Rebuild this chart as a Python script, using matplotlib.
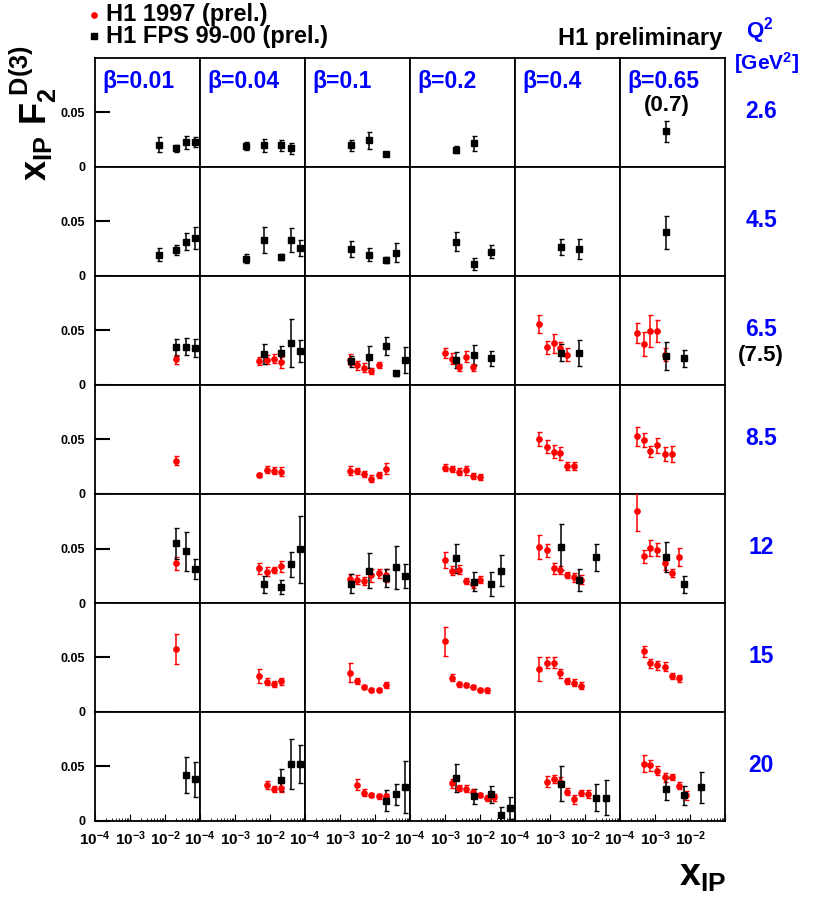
import numpy as np
import matplotlib.pyplot as plt
from matplotlib.ticker import FixedLocator, NullFormatter, LogLocator

plt.rcParams['font.family'] = ['Liberation Sans', 'DejaVu Sans']
plt.rcParams['mathtext.fontset'] = 'custom'
plt.rcParams['mathtext.rm'] = 'Liberation Sans'
plt.rcParams['mathtext.bf'] = 'Liberation Sans:bold'
plt.rcParams['mathtext.it'] = 'Liberation Sans:italic:bold'

beta_labels = ['0.01', '0.04', '0.1', '0.2', '0.4', '0.65']
q2_labels = ['2.6', '4.5', '6.5', '8.5', '12', '15', '20']

# (beta column, x_IP, F2D3 * x_IP, total error)
fps_q2_2p6 = [
    (0, 0.0069, 0.0204, 0.007), (0, 0.020, 0.0171, 0.003), (0, 0.040, 0.0226, 0.006), (0, 0.071, 0.0229, 0.005),
    (1, 0.002, 0.0192, 0.004), (1, 0.0069, 0.0198, 0.006), (1, 0.020, 0.0198, 0.005), (1, 0.040, 0.0171, 0.005),
    (2, 0.002, 0.0198, 0.005), (2, 0.0069, 0.0244, 0.008), (2, 0.020, 0.0122, 0.002),
    (3, 0.002, 0.0159, 0.003), (3, 0.0069, 0.0216, 0.007),
    (5, 0.002, 0.0326, 0.0095),
]
fps_q2_4p5 = [
    (0, 0.0069, 0.0197, 0.006), (0, 0.020, 0.0242, 0.0045), (0, 0.040, 0.0315, 0.0075), (0, 0.071, 0.0348, 0.010),
    (1, 0.002, 0.0158, 0.004), (1, 0.0069, 0.0327, 0.012), (1, 0.020, 0.0176, 0.003), (1, 0.040, 0.0327, 0.011),
    (1, 0.071, 0.0258, 0.007),
    (2, 0.002, 0.0248, 0.007), (2, 0.0069, 0.0197, 0.006), (2, 0.020, 0.0148, 0.003), (2, 0.040, 0.0215, 0.009),
    (3, 0.002, 0.0315, 0.009), (3, 0.0069, 0.0112, 0.0055), (3, 0.020, 0.0224, 0.006),
    (4, 0.002, 0.0267, 0.007), (4, 0.0069, 0.0248, 0.009),
    (5, 0.002, 0.040, 0.015),
]
fps_q2_7p5 = [
    (0, 0.020, 0.0345, 0.008), (0, 0.040, 0.0352, 0.008), (0, 0.071, 0.0339, 0.008),
    (1, 0.0069, 0.0285, 0.0095), (1, 0.020, 0.0291, 0.007), (1, 0.040, 0.0385, 0.022), (1, 0.071, 0.0312, 0.010),
    (2, 0.002, 0.0218, 0.005), (2, 0.0069, 0.0255, 0.010), (2, 0.020, 0.0358, 0.008), (2, 0.040, 0.0106, 0.0025),
    (2, 0.071, 0.0233, 0.012),
    (3, 0.002, 0.023, 0.0075), (3, 0.0069, 0.0273, 0.009), (3, 0.020, 0.0245, 0.007),
    (4, 0.002, 0.0297, 0.008), (4, 0.0069, 0.0297, 0.012),
    (5, 0.002, 0.0267, 0.013), (5, 0.0069, 0.0245, 0.008),
]
fps_q2_12 = [
    (0, 0.020, 0.0548, 0.014), (0, 0.040, 0.0474, 0.018), (0, 0.071, 0.0314, 0.009),
    (1, 0.0069, 0.0172, 0.008), (1, 0.020, 0.0148, 0.0065), (1, 0.040, 0.0354, 0.0117), (1, 0.071, 0.0492, 0.031),
    (2, 0.002, 0.0178, 0.009), (2, 0.0069, 0.0298, 0.016), (2, 0.020, 0.0231, 0.008), (2, 0.040, 0.0326, 0.020),
    (2, 0.071, 0.0252, 0.011),
    (3, 0.002, 0.0409, 0.013), (3, 0.0069, 0.0197, 0.009), (3, 0.020, 0.0175, 0.011), (3, 0.040, 0.0298, 0.014),
    (4, 0.002, 0.0517, 0.021), (4, 0.0069, 0.0209, 0.010), (4, 0.020, 0.0418, 0.012),
    (5, 0.002, 0.0421, 0.014), (5, 0.0069, 0.0172, 0.008),
]
fps_q2_20 = [
    (0, 0.040, 0.042, 0.0167), (0, 0.071, 0.0383, 0.016),
    (1, 0.020, 0.0377, 0.0103), (1, 0.040, 0.0525, 0.023), (1, 0.071, 0.0525, 0.0175),
    (2, 0.020, 0.0188, 0.010), (2, 0.040, 0.0244, 0.010), (2, 0.071, 0.0312, 0.024),
    (3, 0.002, 0.0395, 0.013), (3, 0.0069, 0.0228, 0.007), (3, 0.020, 0.0244, 0.008), (3, 0.040, 0.0059, 0.007),
    (3, 0.071, 0.012, 0.010),
    (4, 0.002, 0.034, 0.016), (4, 0.020, 0.0213, 0.0125), (4, 0.040, 0.0213, 0.016),
    (5, 0.002, 0.0296, 0.010), (5, 0.0069, 0.0235, 0.009), (5, 0.020, 0.0309, 0.014),
]

h97_q2_6p5 = [
    (0, 0.020, 0.0236, 0.004),
    (1, 0.005, 0.0221, 0.004), (1, 0.008, 0.0233, 0.004), (1, 0.0126, 0.0242, 0.004), (1, 0.020, 0.0209, 0.005),
    (2, 0.00195, 0.0233, 0.005), (2, 0.0031, 0.0182, 0.004), (2, 0.0049, 0.0158, 0.004), (2, 0.0078, 0.0127, 0.003),
    (2, 0.0126, 0.0182, 0.003),
    (3, 0.001, 0.0294, 0.005), (3, 0.0016, 0.0242, 0.005), (3, 0.0025, 0.0161, 0.003), (3, 0.004, 0.0261, 0.005),
    (3, 0.0062, 0.0161, 0.003),
    (4, 0.0005, 0.056, 0.008), (4, 0.0008, 0.0348, 0.006), (4, 0.00126, 0.0382, 0.009), (4, 0.00195, 0.0336, 0.0056),
    (4, 0.0031, 0.0279, 0.006),
    (5, 0.0003, 0.0479, 0.009), (5, 0.00048, 0.0379, 0.011), (5, 0.00074, 0.0494, 0.0145), (5, 0.00117, 0.0494, 0.010),
    (5, 0.0019, 0.0276, 0.006),
]
h97_q2_8p5 = [
    (0, 0.020, 0.0306, 0.004),
    (1, 0.005, 0.0173, 0.002), (1, 0.008, 0.0224, 0.003), (1, 0.0126, 0.0215, 0.003), (1, 0.020, 0.0206, 0.004),
    (2, 0.00195, 0.0215, 0.004), (2, 0.0031, 0.0212, 0.003), (2, 0.0049, 0.0182, 0.003), (2, 0.0078, 0.0142, 0.003),
    (2, 0.0126, 0.0176, 0.003), (2, 0.020, 0.0233, 0.005),
    (3, 0.001, 0.0242, 0.003), (3, 0.0016, 0.0230, 0.003), (3, 0.0025, 0.0206, 0.003), (3, 0.004, 0.0218, 0.004),
    (3, 0.0062, 0.0167, 0.003), (3, 0.0098, 0.0158, 0.003),
    (4, 0.0005, 0.0506, 0.0065), (4, 0.0008, 0.0433, 0.006), (4, 0.00126, 0.0388, 0.006), (4, 0.00195, 0.0373, 0.006),
    (4, 0.0031, 0.0258, 0.004), (4, 0.0049, 0.0258, 0.004),
    (5, 0.0003, 0.053, 0.0087), (5, 0.00048, 0.0494, 0.0065), (5, 0.00074, 0.0391, 0.005), (5, 0.00117, 0.0445, 0.0065),
    (5, 0.0019, 0.0367, 0.006), (5, 0.003, 0.0367, 0.007),
]
h97_q2_12 = [
    (0, 0.020, 0.0363, 0.0057),
    (1, 0.005, 0.032, 0.005), (1, 0.008, 0.0286, 0.004), (1, 0.0126, 0.0302, 0.003), (1, 0.020, 0.0335, 0.005),
    (2, 0.00195, 0.0222, 0.004), (2, 0.0031, 0.0215, 0.004), (2, 0.0049, 0.0203, 0.004), (2, 0.0078, 0.0255, 0.006),
    (2, 0.0126, 0.0271, 0.004), (2, 0.020, 0.0255, 0.006),
    (3, 0.001, 0.0394, 0.007), (3, 0.0016, 0.0295, 0.004), (3, 0.0025, 0.0305, 0.004), (3, 0.004, 0.020, 0.003),
    (3, 0.0062, 0.0175, 0.004), (3, 0.0098, 0.0215, 0.003),
    (4, 0.0005, 0.0517, 0.011), (4, 0.0008, 0.0483, 0.006), (4, 0.00126, 0.032, 0.005), (4, 0.00195, 0.0302, 0.004),
    (4, 0.0031, 0.0255, 0.003), (4, 0.0049, 0.0234, 0.004), (4, 0.0078, 0.0215, 0.004),
    (5, 0.0003, 0.084, 0.018), (5, 0.00048, 0.0428, 0.006), (5, 0.00074, 0.0505, 0.007), (5, 0.00117, 0.0489, 0.006),
    (5, 0.0019, 0.0363, 0.006), (5, 0.003, 0.0274, 0.004), (5, 0.0048, 0.0421, 0.008),
]
h97_q2_15 = [
    (0, 0.020, 0.058, 0.014),
    (1, 0.005, 0.0327, 0.0065), (1, 0.008, 0.0278, 0.003), (1, 0.0126, 0.0256, 0.003), (1, 0.020, 0.0281, 0.003),
    (2, 0.00195, 0.0361, 0.009), (2, 0.0031, 0.0284, 0.003), (2, 0.0049, 0.0231, 0.002), (2, 0.0078, 0.020, 0.002),
    (2, 0.0126, 0.020, 0.002), (2, 0.020, 0.0247, 0.003),
    (3, 0.001, 0.0648, 0.0136), (3, 0.0016, 0.0315, 0.003), (3, 0.0025, 0.0253, 0.002), (3, 0.004, 0.025, 0.002),
    (3, 0.0062, 0.0228, 0.002), (3, 0.0098, 0.0204, 0.002), (3, 0.0155, 0.0198, 0.002),
    (4, 0.0005, 0.0395, 0.011), (4, 0.0008, 0.0454, 0.005), (4, 0.00126, 0.0454, 0.005), (4, 0.00195, 0.0355, 0.004),
    (4, 0.0031, 0.0284, 0.003), (4, 0.0049, 0.0269, 0.003), (4, 0.0078, 0.0241, 0.003),
    (5, 0.00048, 0.0559, 0.005), (5, 0.00074, 0.0448, 0.004), (5, 0.00117, 0.0429, 0.004), (5, 0.0019, 0.0417, 0.004),
    (5, 0.003, 0.033, 0.003), (5, 0.0048, 0.0309, 0.003),
]
h97_q2_20 = [
    (1, 0.008, 0.033, 0.004), (1, 0.0126, 0.0293, 0.003), (1, 0.020, 0.0306, 0.004),
    (2, 0.0031, 0.0333, 0.005), (2, 0.0049, 0.0259, 0.003), (2, 0.0078, 0.0241, 0.002), (2, 0.0126, 0.0225, 0.002),
    (2, 0.020, 0.0228, 0.002),
    (3, 0.0016, 0.0346, 0.004), (3, 0.0025, 0.0302, 0.003), (3, 0.004, 0.0296, 0.003), (3, 0.0062, 0.0265, 0.003),
    (3, 0.0098, 0.0238, 0.002), (3, 0.0155, 0.021, 0.003), (3, 0.0245, 0.0216, 0.003),
    (4, 0.0008, 0.0361, 0.005), (4, 0.00126, 0.0386, 0.004), (4, 0.00195, 0.0361, 0.004), (4, 0.0031, 0.0269, 0.003),
    (4, 0.0049, 0.020, 0.004), (4, 0.0078, 0.0256, 0.003), (4, 0.0123, 0.0247, 0.004),
    (5, 0.00048, 0.0525, 0.008), (5, 0.00074, 0.0512, 0.005), (5, 0.00117, 0.0463, 0.004), (5, 0.0019, 0.0401, 0.004),
    (5, 0.003, 0.0404, 0.003), (5, 0.0048, 0.0324, 0.003), (5, 0.0076, 0.0235, 0.004),
]

# one entry per Q2 row
fps_rows = [fps_q2_2p6, fps_q2_4p5, fps_q2_7p5, [], fps_q2_12, [], fps_q2_20]
h97_rows = [[], [], h97_q2_6p5, h97_q2_8p5, h97_q2_12, h97_q2_15, h97_q2_20]

W, H = 818, 898
fig, axes = plt.subplots(7, 6, figsize=(W / 100, H / 100), dpi=100, sharex=True, sharey=True)
fig.subplots_adjust(left=95 / W, right=725 / W, top=1 - 58 / H, bottom=1 - 821 / H, wspace=0, hspace=0)

BLUE = '#0000ff'


def draw(ax, pts, col, color, marker, ms):
    sel = [p for p in pts if p[0] == col]
    if not sel:
        return
    x = [p[1] for p in sel]
    y = [p[2] for p in sel]
    e = [p[3] for p in sel]
    ax.errorbar(x, y, yerr=e, fmt=marker, color=color, ms=ms, elinewidth=1.1,
                capsize=1.8, capthick=1.0, zorder=3)


for r in range(7):
    for c in range(6):
        ax = axes[r, c]
        ax.set_xscale('log')
        ax.set_xlim(1e-4, 1e-1)
        ax.set_ylim(0, 0.1)
        for s in ax.spines.values():
            s.set_linewidth(1.3)
        draw(ax, h97_rows[r], c, 'red', 'o', 3.8)
        draw(ax, fps_rows[r], c, 'black', 's', 4.2)

        ax.yaxis.set_major_locator(FixedLocator([0, 0.05]))
        ax.yaxis.set_minor_locator(FixedLocator([]))
        ax.tick_params(axis='y', which='major', direction='in', length=11, width=1.5,
                       left=(c == 0), right=False, labelleft=(c == 0), labelsize=9, pad=7)
        ax.xaxis.set_major_locator(FixedLocator([1e-4, 1e-3, 1e-2, 1e-1]))
        ax.xaxis.set_minor_locator(LogLocator(base=10, subs=np.arange(2, 10)))
        ax.xaxis.set_minor_formatter(NullFormatter())
        bottom = (r == 6)
        ax.tick_params(axis='x', which='major', direction='in', length=5, width=0.8,
                       bottom=bottom, top=False, labelbottom=bottom, labelsize=11, pad=6)
        ax.tick_params(axis='x', which='minor', direction='in', length=2.5, width=0.6,
                       bottom=bottom, top=False)
        if c == 0:
            ax.set_yticklabels(['0', '0.05'], fontweight='bold')
        if bottom:
            ax.set_xticklabels([r'$\mathbf{10^{-4}}$', r'$\mathbf{10^{-3}}$', r'$\mathbf{10^{-2}}$', ''])

for c, b in enumerate(beta_labels):
    axes[0, c].text(0.07, 0.78, '\u03b2=' + b, transform=axes[0, c].transAxes, color=BLUE,
                    fontsize=16.5, fontweight='bold', va='center', ha='left')
axes[0, 5].text(0.45, 0.56, '(0.7)', transform=axes[0, 5].transAxes, color='black',
                fontsize=16, fontweight='bold', va='center', ha='center')

for r, q in enumerate(q2_labels):
    yc = axes[r, 5].get_position()
    fig.text(761 / W, yc.y0 + 0.51 * yc.height, q, color=BLUE, fontsize=16.5, fontweight='bold',
             ha='center', va='center')
fig.text(761 / W, 1 - 355 / H, '(7.5)', color='black', fontsize=16, fontweight='bold',
         ha='center', va='center')

fig.text(760 / W, 1 - 31 / H, r'$\mathbf{Q^2}$', color=BLUE, fontsize=16, ha='center', va='center')
fig.text(767 / W, 1 - 63 / H, r'$\mathbf{[GeV^2]}$', color=BLUE, fontsize=15, ha='center', va='center')

fig.text(33 / W, 1 - 113 / H, r'$\mathbf{x_{IP}\ F_2^{\ D(3)}}$', rotation=90, fontsize=26,
         ha='center', va='center')
fig.text(703 / W, 1 - 876 / H, r'$\mathbf{x_{IP}}$', fontsize=27, ha='center', va='center')

fig.text(722 / W, 1 - 38 / H, 'H1 preliminary', fontsize=17, fontweight='bold', ha='right', va='center')

# legend
fig.lines.append(plt.Line2D([94 / W], [1 - 15 / H], marker='o', color='red', ms=3.8,
                            transform=fig.transFigure, figure=fig))
fig.lines.append(plt.Line2D([94 / W], [1 - 36 / H], marker='s', color='black', ms=4.2,
                            transform=fig.transFigure, figure=fig))
fig.text(106 / W, 1 - 15 / H, 'H1 1997 (prel.)', fontsize=17, fontweight='bold', ha='left', va='center')
fig.text(106 / W, 1 - 37 / H, 'H1 FPS 99-00 (prel.)', fontsize=17, fontweight='bold', ha='left', va='center')

fig.savefig('out.png', dpi=100)
